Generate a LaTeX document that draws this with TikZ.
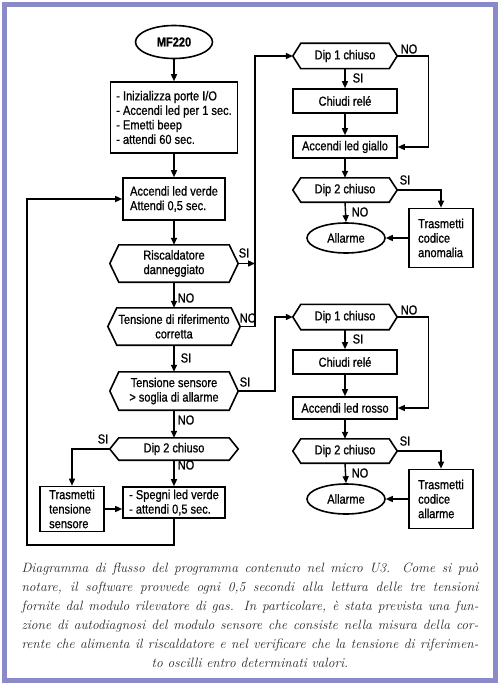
\documentclass[tikz,border=0pt]{standalone}
\usepackage{fontspec}
\newfontfamily\fc[FakeStretch=0.85,FakeBold=0.8]{Liberation Sans}
\usetikzlibrary{arrows.meta,shapes.geometric}
\definecolor{framecol}{RGB}{138,138,200}
\newcommand\drawhex[2][9]{\draw[line width=1.6pt,line join=miter] (#2.west) -- ([xshift=#1pt]#2.north west) -- ([xshift=-#1pt]#2.north east) -- (#2.east) -- ([xshift=-#1pt]#2.south east) -- ([xshift=#1pt]#2.south west) -- cycle;}
\newcommand\capline[1]{\makebox[457pt][s]{#1}}
\tikzset{
  fcfont/.style={font=\fc\fontsize{13}{14.5}\selectfont},
  box/.style={draw, line width=1.6pt, fcfont, inner sep=3pt},
  dec/.style={fcfont, align=center, inner sep=2pt},
  term/.style={ellipse, draw, line width=1.6pt, fcfont, inner sep=1pt},
  arr/.style={-{Triangle[length=7pt,width=6pt]}, line width=1.4pt},
  lab/.style={fcfont, inner sep=0pt},
}
\begin{document}
\begin{tikzpicture}[x=1pt,y=-1pt]
\useasboundingbox (0,0) rectangle (500,685);
\fill[white] (0,0) rectangle (500,685);
\draw[framecol, line width=5pt] (4.5,4.5) rectangle (495.5,680.5);

% left column
\node[term, minimum width=77pt, minimum height=33pt, font=\fc\bfseries\fontsize{13}{14.5}\selectfont] (start) at (174,42) {MF220};
\node[box, minimum width=127pt, minimum height=71pt, align=left] (init) at (174,117.5) {- Inizializza porte I/O\\- Accendi led per 1 sec.\\- Emetti beep\\- attendi 60 sec.};
\node[box, minimum width=102pt, minimum height=42pt, align=left] (verde) at (174,199) {Accendi led verde\\Attendi 0,5 sec.};
\node[dec, minimum width=128pt, minimum height=37pt] (risc) at (174,263.5) {Riscaldatore\\danneggiato};
\drawhex{risc}
\node[dec, minimum width=132pt, minimum height=37pt] (rif) at (174,326.5) {Tensione di riferimento\\corretta};
\drawhex{rif}
\node[dec, minimum width=128pt, minimum height=38pt] (sens) at (174,391) {Tensione sensore\\> soglia di allarme};
\drawhex{sens}
\node[dec, minimum width=128pt, minimum height=22pt] (dipL) at (174,449) {Dip 2 chiuso};
\drawhex{dipL}
\node[box, minimum width=64pt, minimum height=45pt, inner ysep=1pt, align=left] (trT) at (72,509) {Trasmetti\\tensione\\sensore};
\node[box, minimum width=102pt, minimum height=31pt, inner ysep=1pt, align=left] (spegni) at (174,502.5) {- Spegni led verde\\- attendi 0,5 sec.};

\draw[arr] (start.south) -- (init.north);
\draw[arr] (init.south) -- (verde.north);
\draw[arr] (verde.south) -- (risc.north);
\draw[arr] (risc.south) -- (rif.north);
\draw[arr] (rif.south) -- (sens.north);
\draw[arr] (sens.south) -- (dipL.north);
\draw[arr] (dipL.south) -- (spegni.north);
\draw[arr] (dipL.west) -| (trT.north);
\draw[arr] (trT.east) -- (trT.east -| spegni.west);
\coordinate (lp) at (27,545);
\draw[arr] (spegni.south) |- (lp) |- (verde.west);

\node[lab] (l1) at (186,298) {NO};
\node[lab] (l2) at (186,358) {SI};
\node[lab] (l3) at (186,420) {NO};
\node[lab] (l4) at (186,465) {NO};
\node[lab] (l5) at (103,439) {SI};
\node[lab] (l6) at (244,253) {SI};
\node[lab] (l7) at (248,318) {NO};
\node[lab] (l8) at (245,382) {SI};

% right columns
\foreach \s/\yo/\led/\tx in {a/0/giallo/anomalia, b/261/rosso/allarme}{
  \node[dec, minimum width=104pt, minimum height=25pt] (dip1\s) at (345,56+\yo) {Dip 1 chiuso};
  \drawhex[8]{dip1\s}
  \node[box, minimum width=104pt, minimum height=24pt] (chiudi\s) at (345,101+\yo) {Chiudi relé};
  \node[box, minimum width=104pt, minimum height=22pt] (acc\s) at (345,147+\yo) {Accendi led \led};
  \node[dec, minimum width=104pt, minimum height=24pt] (dip2\s) at (345,190+\yo) {Dip 2 chiuso};
  \drawhex[8]{dip2\s}
  \node[term, minimum width=78pt, minimum height=30pt] (all\s) at (346,238+\yo) {Allarme};
  \node[box, minimum width=64pt, minimum height=59pt, align=left] (tr\s) at (441,238+\yo) {Trasmetti\\codice\\\tx};
  \draw[arr] (dip1\s.south) -- (chiudi\s.north);
  \draw[arr] (chiudi\s.south) -- (acc\s.north);
  \draw[arr] (dip1\s.east) -- ++(31,0) |- (acc\s.east);
  \draw[arr] (acc\s.south) -- (dip2\s.north);
  \draw[arr] (dip2\s.east) -| (tr\s.north);
  \draw[arr] (dip2\s.south) -- (all\s.north);
  \draw[arr] (tr\s.west) -- (all\s.east);
  \node[lab] (si1\s) at (358,78+\yo) {SI};
  \node[lab] (no1\s) at (409,49+\yo) {NO};
  \node[lab] (si2\s) at (405,180+\yo) {SI};
  \node[lab] (no2\s) at (360,212+\yo) {NO};
}

\coordinate (jA) at (255,56);
\draw[arr] (rif.east) -| (jA) -- (dip1a.west);
\draw[arr] (risc.east) -- (risc.east -| jA);
\coordinate (jB) at (275,317);
\draw[arr] (sens.east) -| (jB) -- (dip1b.west);

\node[font=\itshape\fontsize{13.5}{19}\selectfont, align=center, inner sep=0pt, text=black!85] (cap) at (250,615.5) {\capline{Diagramma di flusso del programma contenuto nel micro U3. Come si può}\\\capline{notare, il software provvede ogni 0,5 secondi alla lettura delle tre tensioni}\\\capline{fornite dal modulo rilevatore di gas. In particolare, è stata prevista una fun-}\\\capline{zione di autodiagnosi del modulo sensore che consiste nella misura della cor-}\\\capline{rente che alimenta il riscaldatore e nel verificare che la tensione di riferimen-}\\to oscilli entro determinati valori.};
\end{tikzpicture}
\end{document}
